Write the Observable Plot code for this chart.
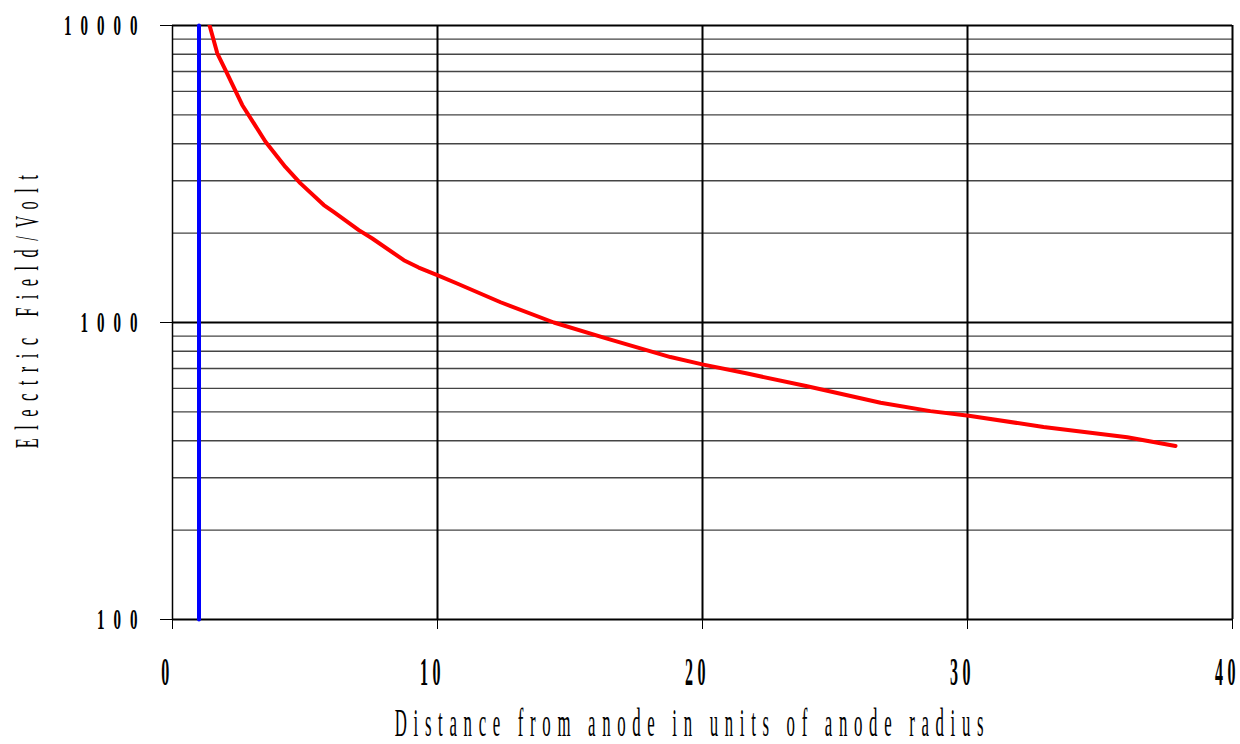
<!DOCTYPE html>
<html><head><meta charset="utf-8">
<script src="https://cdn.jsdelivr.net/npm/d3@7"></script>
<script src="https://cdn.jsdelivr.net/npm/@observablehq/plot@0.6"></script>
<style>html,body{margin:0;padding:0;background:#fff;} #chart svg{display:block;}</style>
</head><body><div id="chart"></div>
<script>
const distance = [1.4, 1.69, 2.0, 2.63, 3.51, 4.26, 4.83, 5.71, 6.08, 7.03, 7.54, 8.73, 9.29, 9.99, 10.74, 12.38, 14.39, 16.4, 18.79, 19.99, 21.69, 23.95, 26.72, 28.6, 30.05, 32.87, 36.03, 37.85];
const field = [10000, 8060, 7080, 5400, 4060, 3340, 2940, 2485, 2357, 2046, 1918, 1621, 1531, 1443, 1353, 1170, 1000, 883, 765, 723, 673, 610, 537, 503, 485, 445, 411, 384];
const anodeDistance = [1, 1];
const anodeField = [100, 10000];
const xTicks = [0, 10, 20, 30, 40];
const yMajor = [100, 1000, 10000];
const yMinor = [200, 300, 400, 500, 600, 700, 800, 900, 2000, 3000, 4000, 5000, 6000, 7000, 8000, 9000];
const xTitle = "Distance from anode in units of anode radius";
const yTitle = "Electric Field/Volt";

const curve = distance.map((d, i) => ({x: d, y: field[i]}));
const anode = anodeDistance.map((d, i) => ({x: d, y: anodeField[i]}));

const font = "'Liberation Serif', 'Times New Roman', serif";
const chart = Plot.plot({
  width: 1240, height: 744,
  marginLeft: 172, marginRight: 8, marginTop: 25, marginBottom: 125,
  style: {background: "#fff", fontFamily: font, color: "#000"},
  x: {domain: [0, 40]},
  y: {type: "log", domain: [100, 10000]},
  marks: [
    Plot.ruleY(yMinor, {stroke: "#444", strokeWidth: 1.4}),
    Plot.ruleX(xTicks.slice(1), {stroke: "#000", strokeWidth: 2}),
    Plot.ruleY(yMajor, {stroke: "#000", strokeWidth: 2}),
    Plot.ruleX([0], {stroke: "#000", strokeWidth: 1.5}),
    Plot.line(anode, {x: "x", y: "y", stroke: "#0000ff", strokeWidth: 4}),
    Plot.line(curve, {x: "x", y: "y", stroke: "#ff0000", strokeWidth: 4, clip: true}),
    Plot.axisY({ticks: yMajor, tickSize: 12, fill: "none", label: null}),
    Plot.axisY({ticks: yMajor, tickFormat: d => String(d), tickSize: 12, tickPadding: 14, dy: 9, stroke: "none", fontSize: 30, fontWeight: "bold", label: null}),
    Plot.axisX({ticks: xTicks, tickSize: 10, fill: "none", label: null}),
    Plot.axisX({ticks: xTicks, tickFormat: d => String(d), tickSize: 10, tickPadding: 28, dy: 27, dx: -5, stroke: "none", fontSize: 40, fontWeight: "bold", label: null}),
    Plot.text([xTitle], {frameAnchor: "bottom", textAnchor: "middle", lineAnchor: "middle", dy: 116, dx: -10, fontSize: 40, text: d => d}),
    Plot.text([yTitle], {frameAnchor: "left", textAnchor: "middle", lineAnchor: "middle", rotate: -90, dx: -135, dy: -15, fontSize: 33, text: d => d})
  ]
});
document.getElementById("chart").appendChild(chart);

function condense(nodes, sx, ls) {
  nodes.forEach(function (el) {
    el.style.letterSpacing = ls + "px";
    const tr = el.getAttribute("transform") || "";
    const x = el.getAttribute("x"), y = el.getAttribute("y");
    let pre = "";
    if (x !== null || y !== null) {
      pre = `translate(${+x || 0},${+y || 0}) `;
      el.removeAttribute("x"); el.removeAttribute("y");
    }
    el.setAttribute("transform", `${tr} ${pre}scale(${sx},1)`);
  });
}
condense(chart.querySelectorAll('g[aria-label="y-axis tick label"] text'), 0.5, 18);
condense(chart.querySelectorAll('g[aria-label="x-axis tick label"] text'), 0.4, 11);
const textGroups = chart.querySelectorAll('g[aria-label="text"]');
condense(textGroups[0].querySelectorAll("text"), 0.42, 15.9);
condense(textGroups[1].querySelectorAll("text"), 0.5, 16.9);
</script>
</body></html>
